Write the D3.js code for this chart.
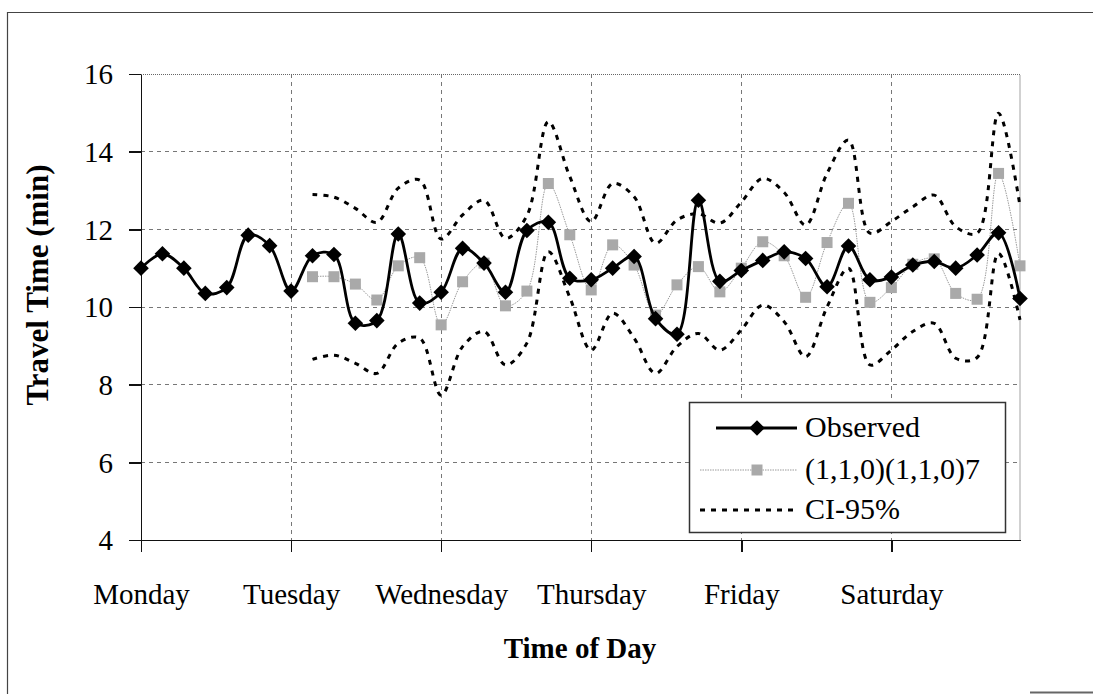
<!DOCTYPE html>
<meta charset="utf-8">
<title>Travel Time</title>
<style>
    body {
        margin: 0;
        background: #fff;
        font-family: "Liberation Serif", "Times New Roman", serif;
    }

    .grid line {
        stroke: #777;
        stroke-width: 1;
        stroke-dasharray: 4, 4;
        shape-rendering: crispEdges;
    }

    .axis path,
    .axis line {
        stroke: #111;
        stroke-width: 1.5;
        shape-rendering: crispEdges;
    }

    .axis text {
        font-family: "Liberation Serif", serif;
        font-size: 29px;
        fill: #000;
    }
</style>

<body>
    <div id="chart"></div>
    <script src="https://d3js.org/d3.v7.min.js"></script>

    <script>
        // tick labels
        var days = ["Monday", "Tuesday", "Wednesday", "Thursday", "Friday", "Saturday"];
        var yTicks = [4, 6, 8, 10, 12, 14, 16];

        // 7 periods per day, 42 periods in all
        var observed = [11.0, 11.37, 11.0, 10.35, 10.5, 11.85, 11.58,
            10.41, 11.32, 11.35, 9.58, 9.65, 11.88, 10.1,
            10.38, 11.51, 11.13, 10.38, 11.97, 12.18, 10.74,
            10.7, 11.0, 11.3, 9.7, 9.3, 12.75, 10.66,
            10.94, 11.2, 11.42, 11.25, 10.52, 11.57, 10.7,
            10.77, 11.08, 11.17, 11.0, 11.34, 11.91, 10.22];

        var forecast = [null, null, null, null, null, null, null,
            null, 10.78, 10.78, 10.59, 10.18, 11.06, 11.27,
            9.54, 10.65, 11.13, 10.03, 10.41, 13.18, 11.86,
            10.44, 11.6, 11.08, 9.79, 10.57, 11.04, 10.39,
            11.0, 11.68, 11.32, 10.25, 11.66, 12.67, 10.12,
            10.5, 11.1, 11.24, 10.35, 10.2, 13.44, 11.06];

        var ciUpper = [null, null, null, null, null, null, null,
            null, 12.9, 12.83, 12.54, 12.18, 13.06, 13.27,
            11.75, 12.37, 12.75, 11.77, 12.35, 14.77, 13.36,
            12.2, 13.18, 12.84, 11.64, 12.24, 12.4, 12.16,
            12.7, 13.31, 12.95, 12.11, 13.44, 14.3, 11.9,
            12.2, 12.58, 12.88, 12.07, 11.9, 14.99, 12.6];

        var ciLower = [null, null, null, null, null, null, null,
            null, 8.65, 8.76, 8.55, 8.29, 9.07, 9.2,
            7.73, 8.98, 9.37, 8.51, 9.07, 11.42, 10.25,
            8.89, 9.84, 9.2, 8.29, 8.98, 9.32, 8.89,
            9.41, 10.05, 9.62, 8.72, 10.0, 11.0, 8.51,
            8.89, 9.37, 9.58, 8.68, 8.7, 11.38, 9.67];

        var width = 1093,
            height = 694,
            margin = {
                top: 74,
                right: 73,
                bottom: 154,
                left: 141
            },
            innerW = width - margin.left - margin.right,
            innerH = height - margin.top - margin.bottom;

        var svg = d3.select("#chart")
            .append("svg")
            .attr("width", width)
            .attr("height", height);

        // outer frame (left + top edges of the scanned figure)
        svg.append("path")
            .attr("d", "M7.5,694 V12.5 H1093")
            .style("fill", "none")
            .style("stroke", "#444")
            .style("stroke-width", 1.2);
        svg.append("line")
            .attr("x1", 1030).attr("x2", 1093)
            .attr("y1", 692.5).attr("y2", 692.5)
            .style("stroke", "#666")
            .style("stroke-width", 2);

        var g = svg.append("g")
            .attr("transform", `translate(${margin.left},${margin.top})`);

        var x = d3.scaleLinear().domain([0, observed.length - 1]).range([0, innerW]);
        var y = d3.scaleLinear().domain([4, 16]).range([innerH, 0]);

        var dayTicks = days.map((d, i) => i * 7);

        // grid lines
        g.append("g")
            .attr("class", "grid")
            .selectAll("line")
            .data(yTicks.slice(1, -1))
            .enter().append("line")
            .attr("x1", 0).attr("x2", innerW)
            .attr("y1", d => y(d)).attr("y2", d => y(d));

        g.append("g")
            .attr("class", "grid")
            .selectAll("line")
            .data(dayTicks.slice(1))
            .enter().append("line")
            .attr("x1", d => x(d)).attr("x2", d => x(d))
            .attr("y1", 0).attr("y2", innerH);

        // dotted top and right border of the plot area
        g.append("path")
            .attr("d", `M0,0.5 H${innerW} V${innerH}`)
            .style("fill", "none")
            .style("stroke", "#666")
            .style("stroke-width", 1.2)
            .style("stroke-dasharray", "1,1");

        // axes
        var xAxis = d3.axisBottom(x)
            .tickValues(dayTicks)
            .tickFormat((d, i) => days[i])
            .tickSize(12)
            .tickSizeOuter(0)
            .tickPadding(31);

        var yAxis = d3.axisLeft(y)
            .tickValues(yTicks)
            .tickSize(12)
            .tickSizeOuter(0)
            .tickPadding(16);

        g.append("g")
            .attr("class", "x axis")
            .attr("transform", `translate(0,${innerH})`)
            .call(xAxis);

        g.append("g")
            .attr("class", "y axis")
            .call(yAxis);

        g.selectAll(".y.axis text").attr("dy", "0.34em");
        g.selectAll(".x.axis text").attr("dy", "0.71em");

        // lines
        var line = d3.line()
            .defined(d => d != null)
            .x((d, i) => x(i))
            .y(d => y(d))
            .curve(d3.curveCatmullRom);

        function ciLine(vals) {
            g.append("path")
                .datum(vals)
                .attr("d", line)
                .style("fill", "none")
                .style("stroke", "#000")
                .style("stroke-width", 3)
                .style("stroke-dasharray", "5,6");
        }
        ciLine(ciUpper);
        ciLine(ciLower);

        /* forecast series */
        g.append("path")
            .datum(forecast)
            .attr("d", line)
            .style("fill", "none")
            .style("stroke", "#9a9a9a")
            .style("stroke-width", 1)
            .style("stroke-dasharray", "1.5,1");

        var sq = 11;
        g.selectAll(".fc")
            .data(forecast.map((v, i) => ({ i: i, v: v })).filter(d => d.v != null))
            .enter().append("rect")
            .attr("class", "fc")
            .attr("x", d => x(d.i) - sq / 2)
            .attr("y", d => y(d.v) - sq / 2)
            .attr("width", sq)
            .attr("height", sq)
            .style("fill", "#a9a9a9");

        /* observed series */
        g.append("path")
            .datum(observed)
            .attr("d", line)
            .style("fill", "none")
            .style("stroke", "#000")
            .style("stroke-width", 2.8);

        var diamond = d3.symbol().type(d3.symbolDiamond2).size(155);
        g.selectAll(".obs")
            .data(observed)
            .enter().append("path")
            .attr("class", "obs")
            .attr("transform", (d, i) => `translate(${x(i)},${y(d)})`)
            .attr("d", diamond)
            .style("fill", "#000");

        // axis titles
        svg.append("text")
            .attr("transform", "translate(48,285) rotate(-90)")
            .style("text-anchor", "middle")
            .style("font-weight", "bold")
            .style("font-size", "31px")
            .text("Travel Time (min)");

        svg.append("text")
            .attr("x", 580)
            .attr("y", 658)
            .style("text-anchor", "middle")
            .style("font-weight", "bold")
            .style("font-size", "29px")
            .text("Time of Day");

        // legend
        var lg = svg.append("g");
        lg.append("rect")
            .attr("x", 689.5).attr("y", 402.5)
            .attr("width", 316).attr("height", 130)
            .style("fill", "#fff")
            .style("stroke", "#333")
            .style("stroke-width", 1.5);

        var lx1 = 716, lx2 = 797, lmid = 757;
        lg.append("line")
            .attr("x1", lx1).attr("x2", lx2).attr("y1", 428).attr("y2", 428)
            .style("stroke", "#000").style("stroke-width", 2.8);
        lg.append("path")
            .attr("transform", `translate(${lmid},428)`)
            .attr("d", diamond)
            .style("fill", "#000");
        lg.append("line")
            .attr("x1", lx1 - 16).attr("x2", lx2).attr("y1", 470).attr("y2", 470)
            .style("stroke", "#9a9a9a").style("stroke-width", 1)
            .style("stroke-dasharray", "1.5,1");
        lg.append("rect")
            .attr("x", lmid - sq / 2).attr("y", 470 - sq / 2)
            .attr("width", sq).attr("height", sq)
            .style("fill", "#a9a9a9");
        lg.append("line")
            .attr("x1", lx1 - 16).attr("x2", lx2).attr("y1", 510).attr("y2", 510)
            .style("stroke", "#000").style("stroke-width", 3)
            .style("stroke-dasharray", "5,6");

        var labels = ["Observed", "(1,1,0)(1,1,0)7", "CI-95%"];
        var baselines = [437, 479, 519];
        lg.selectAll(".lt")
            .data(labels)
            .enter().append("text")
            .attr("x", 805)
            .attr("y", (d, i) => baselines[i])
            .style("font-size", "30px")
            .text(d => d);
    </script>
</body>
